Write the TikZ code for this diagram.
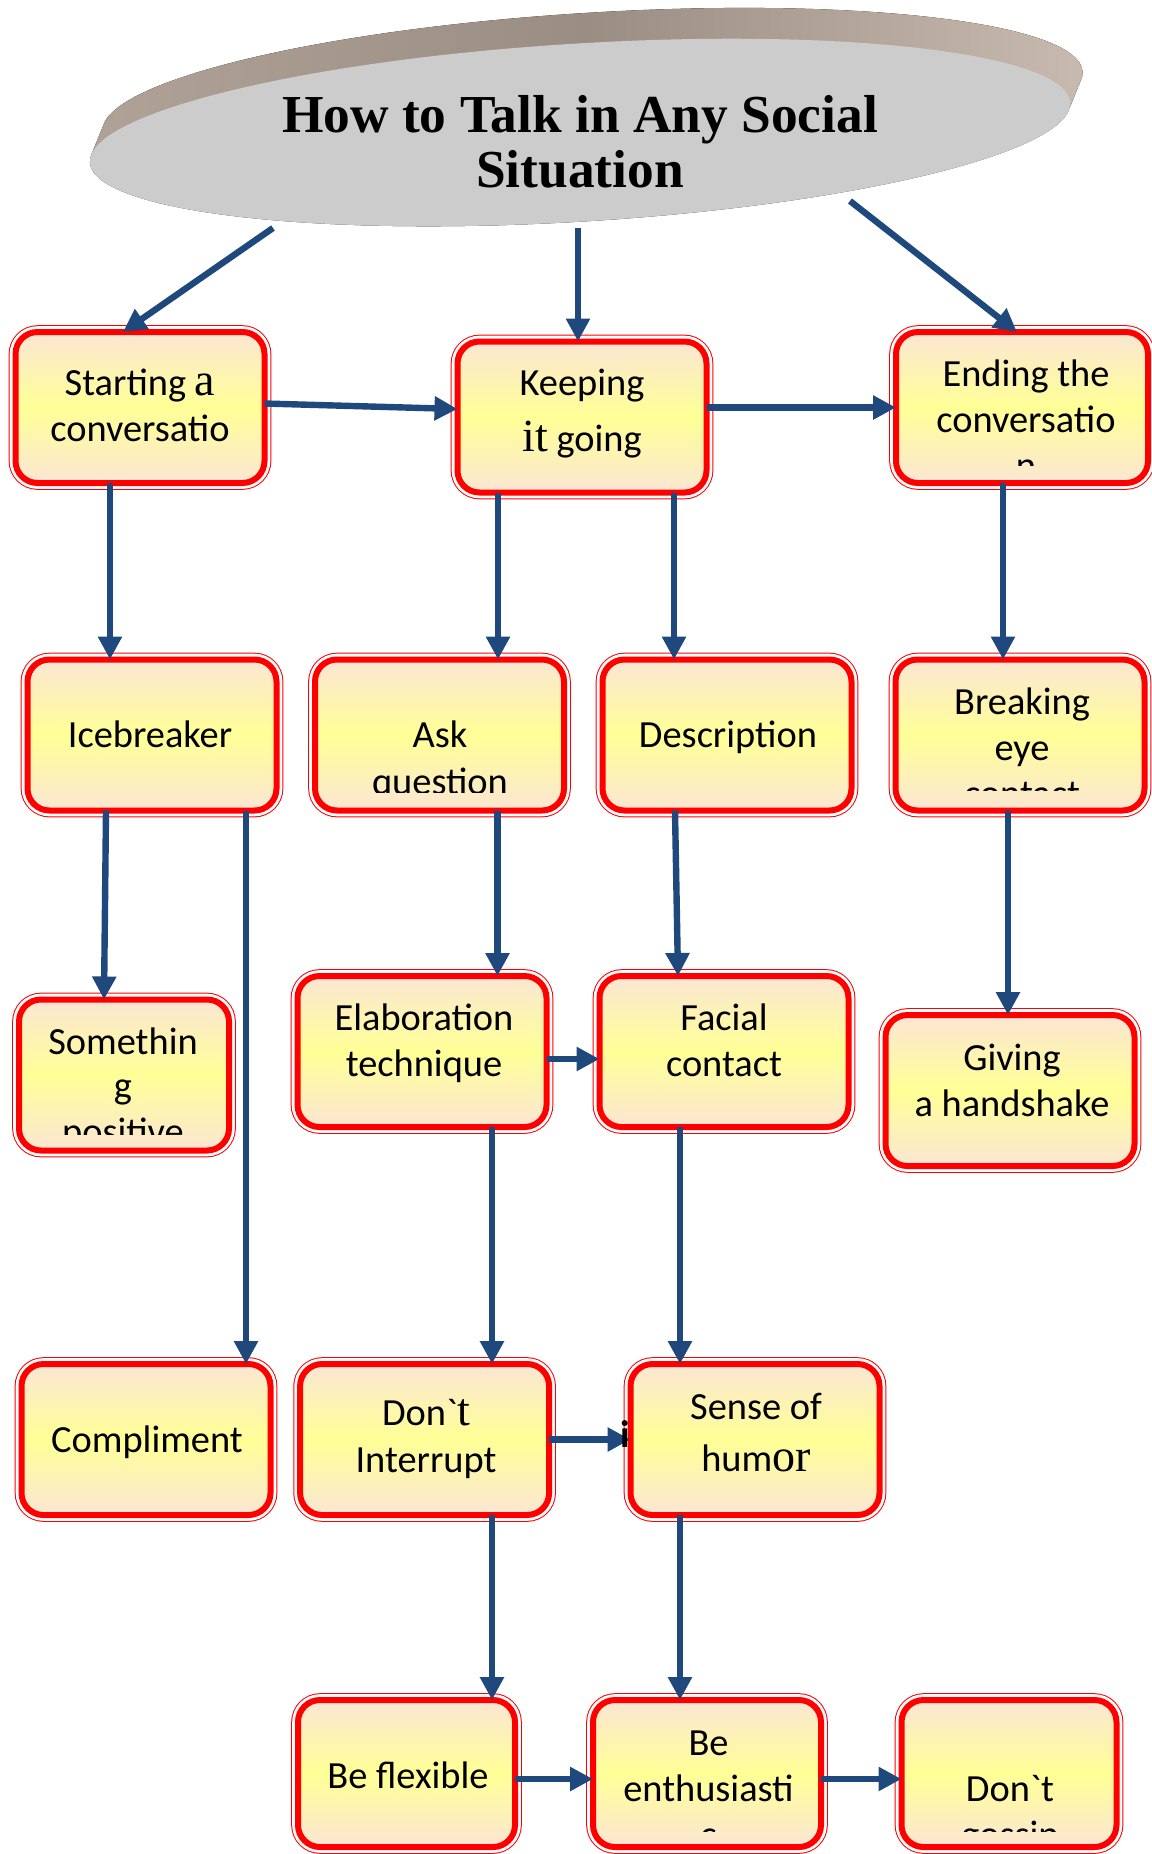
\documentclass[tikz,border=0pt]{standalone}
\usepackage{fontspec}
\setmainfont{Carlito}[Ligatures=TeXOff]
\newfontfamily\titlefont{Liberation Serif}[Ligatures=TeXOff]
\newfontfamily\romanpart{Liberation Serif}[Ligatures=TeXOff]
\usetikzlibrary{arrows.meta}

\definecolor{peach}{RGB}{251,230,212}
\definecolor{lemon}{RGB}{255,255,150}
\definecolor{linkblue}{RGB}{31,73,125}
\definecolor{discface}{RGB}{204,204,204}
\definecolor{rimleft}{RGB}{176,162,150}
\definecolor{rimmid}{RGB}{154,141,131}
\definecolor{rimright}{RGB}{200,186,174}

\tikzset{
  card/.style={rectangle, rounded corners=11pt,
    minimum width=124.5pt, minimum height=75.5pt, inner sep=0pt, outer sep=0pt,
    preaction={draw=red, line width=6.8pt},
    preaction={draw=white, line width=5.8pt},
    top color=peach, bottom color=peach, middle color=lemon,
    draw=red, line width=3pt},
  cardtext/.style={anchor=base, inner sep=0pt, font=\fontsize{19.2}{23}\selectfont},
  link/.style={draw=linkblue, line width=3.2pt,
    -{Triangle[length=11.5pt,width=11.5pt]}},
  headline/.style={anchor=base, inner sep=0pt,
    font=\titlefont\bfseries\fontsize{26.7}{27}\selectfont},
}
\newcommand{\rp}[1]{{\romanpart\fontsize{23}{23}\selectfont #1}}

\begin{document}
\begin{tikzpicture}[x=0.5pt,y=-0.5pt]
\useasboundingbox (0,0) rectangle (1152,1854);

% ---- title disc: side band swept upwards as one path, then the face ----
\begin{scope}[shift={(580,132.5)}, rotate=3.5]
  \fill[left color=rimleft, right color=rimright, middle color=rimmid]
    \foreach \k in {0,1,...,24}{ (\k*0.6,-\k*1.25) ellipse [x radius=245.5pt, y radius=44.5pt] };
  \fill[discface] (0,0) ellipse [x radius=245.5pt, y radius=44.5pt];
\end{scope}
\node[headline] (title1) at (580,132) {How to Talk in Any Social};
\node[headline] (title2) at (580,187) {Situation};
\coordinate (tl) at (273,228);
\coordinate (tm) at (578,228);
\coordinate (tr) at (850,201);

% ---- boxes ----
\node[card] (starting) at (140,407.5) {};
\node[card] (keeping)  at (582,417) {};
\node[card, minimum width=126pt] (ending) at (1022,407.5) {};

\node[card] (ice)   at (152,735) {};
\node[card] (ask)   at (439.5,735) {};
\node[card] (desc)  at (727,735) {};
\node[card] (brk)   at (1020,735) {};

\node[card, minimum width=105pt] (some) at (124,1075) {};
\node[card] (elab)   at (422,1051.5) {};
\node[card] (facial) at (724,1051.5) {};
\node[card] (give)   at (1010,1090.5) {};

\node[card] (comp)  at (146,1439.5) {};
\node[card] (dont)  at (424.6,1439.5) {};
\node[card] (sense) at (755,1439.5) {};

\node[card, minimum width=108.5pt, minimum height=73.5pt] (flex) at (406.5,1773.5) {};
\node[card, minimum width=114pt, minimum height=73.5pt]   (enth) at (707,1773.5) {};
\node[card, minimum width=107.5pt, minimum height=73.5pt] (goss) at (1009,1773.5) {};

% ---- box labels ----
\node[cardtext] (starting-a) at (140,395) {Starting \rp{a}};
\node[cardtext] (starting-b) at (140,441) {conversatio};

\node[cardtext] (keeping-a) at (582,395) {Keeping};
\node[cardtext] (keeping-b) at (582,451) {\rp{it} going};

\begin{scope}
  \clip (ending.north west) rectangle ([yshift=9pt]ending.south east);
  \node[cardtext] (ending-a) at (1026,386) {Ending the};
  \node[cardtext] (ending-b) at (1026,432) {conversatio};
  \node[cardtext] (ending-c) at (1026,478) {n};
\end{scope}

\node[cardtext] (ice-a) at (150,747.5) {Icebreaker};

\begin{scope}
  \clip (ask.north west) rectangle ([yshift=9.25pt]ask.south east);
  \node[cardtext] (ask-a) at (440,747.5) {Ask};
  \node[cardtext] (ask-b) at (440,794) {question};
\end{scope}

\node[cardtext] (desc-a) at (728,747.5) {Description};

\begin{scope}
  \clip (brk.north west) rectangle ([yshift=10pt]brk.south east);
  \node[cardtext] (brk-a) at (1022,714) {Breaking};
  \node[cardtext] (brk-b) at (1022,760.5) {eye};
  \node[cardtext] (brk-c) at (1022,806) {contact};
\end{scope}

\begin{scope}
  \clip (some.north west) rectangle ([yshift=8pt]some.south east);
  \node[cardtext] (some-a) at (123,1054) {Somethin};
  \node[cardtext] (some-b) at (123,1098) {g};
  \node[cardtext] (some-c) at (123,1144) {positive};
\end{scope}

\node[cardtext] (elab-a) at (424,1030) {Elaboration};
\node[cardtext] (elab-b) at (424,1076) {technique};

\node[cardtext] (facial-a) at (724,1030) {Facial};
\node[cardtext] (facial-b) at (724,1076) {contact};

\node[cardtext] (give-a) at (1012,1070) {Giving};
\node[cardtext] (give-b) at (1012,1116.5) {a handshake};

\node[cardtext] (comp-a) at (147,1452.5) {Compliment};

\node[cardtext] (dont-a) at (426,1425) {Don`\rp{t}};
\node[cardtext] (dont-b) at (426,1472.5) {Interrupt};

\node[cardtext] (sense-a) at (756,1419) {Sense of};
\node[cardtext] (sense-b) at (756,1471) {hum\rp{or}};

\node[cardtext] (flex-a) at (408,1788) {Be flexible};

\begin{scope}
  \clip (enth.north west) rectangle ([yshift=8pt]enth.south east);
  \node[cardtext] (enth-a) at (708.5,1755) {Be};
  \node[cardtext] (enth-b) at (708.5,1801) {enthusiasti};
  \node[cardtext] (enth-c) at (708.5,1847.5) {c};
\end{scope}

\begin{scope}
  \clip (goss.north west) rectangle ([yshift=8pt]goss.south east);
  \node[cardtext] (goss-a) at (1010,1801) {Don`t};
  \node[cardtext] (goss-b) at (1010,1847.5) {gossip};
\end{scope}

% ---- connectors ----
\draw[link] (tl) -- ([xshift=-8.5pt]starting.north);
\draw[link] (tm) -- ([xshift=-2pt]keeping.north);
\draw[link] (tr) -- ([xshift=-2.5pt]ending.north);

\draw[link] ([yshift=2pt]starting.east) -- ([yshift=4pt]keeping.west);
\draw[link] (keeping.east |- ending.west) -- (ending.west);

\draw[link] ([xshift=-15pt]starting.south) -- ([xshift=-15pt]starting.south |- ice.north);
\draw[link] ([xshift=-42pt]keeping.south) -- ([xshift=-42pt]keeping.south |- ask.north);
\draw[link] ([xshift=46pt]keeping.south) -- ([xshift=46pt]keeping.south |- desc.north);
\draw[link] ([xshift=-9.5pt]ending.south) -- ([xshift=-9.5pt]ending.south |- brk.north);

\draw[link] ([xshift=-23pt]ice.south) -- ([xshift=-10pt]some.north);
\draw[link] ([xshift=47pt]ice.south) -- ([xshift=47pt]ice.south |- comp.north);
\draw[link] ([xshift=29pt]ask.south) -- ([xshift=29pt]ask.south |- elab.north);
\draw[link] ([xshift=-26pt]desc.south) -- ([xshift=-23pt]facial.north);
\draw[link] ([xshift=-6pt]brk.south) -- ([xshift=-6pt]brk.south |- give.north);

\draw[link] ([yshift=-3.75pt]elab.east) -- ([yshift=-3.75pt]elab.east -| facial.west);
\draw[link] ([xshift=35pt]elab.south) -- ([xshift=35pt]elab.south |- dont.north);
\draw[link] ([xshift=-22pt]facial.south) -- ([xshift=-22pt]facial.south |- sense.north);

\draw[link] (dont.east) -- (dont.east -| sense.west);
\draw[link] ([xshift=33.7pt]dont.south) -- ([xshift=33.7pt]dont.south |- flex.north);
\draw[link] ([xshift=-37.5pt]sense.south) -- ([xshift=-37.5pt]sense.south |- enth.north);

\draw[link] ([yshift=-2.75pt]flex.east) -- ([yshift=-2.75pt]flex.east -| enth.west);
\draw[link] ([yshift=-2.75pt]enth.east) -- ([yshift=-2.75pt]enth.east -| goss.west);

\node[anchor=base, inner sep=0pt, font=\bfseries\fontsize{19.2}{23}\selectfont] (stray) at (625,1447) {i};
\end{tikzpicture}
\end{document}
